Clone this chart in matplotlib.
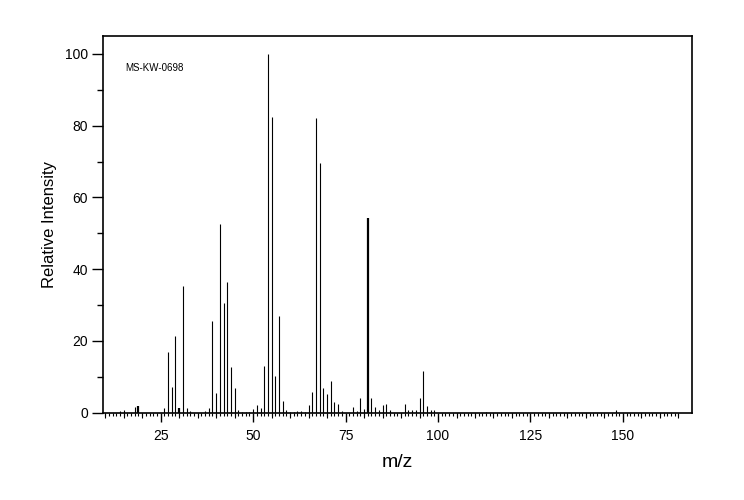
import numpy as np
import matplotlib
matplotlib.use("Agg")
import matplotlib.pyplot as plt
from matplotlib.ticker import MultipleLocator, FixedLocator, NullFormatter

plt.rcParams['font.family'] = ['Liberation Sans', 'DejaVu Sans']

# spectrum (m/z, relative intensity)
mz = [14, 15, 18, 19, 26, 27, 28, 29, 30, 31, 32, 33, 37, 38, 39, 40, 41, 42, 43, 44,
      45, 46, 47, 48, 49, 50, 51, 52, 53, 54, 55, 56, 57, 58, 59, 60, 61, 62, 63, 64,
      65, 66, 67, 68, 69, 70, 71, 72, 73, 74, 77, 78, 79, 80, 81, 82, 83, 84, 85, 86,
      87, 91, 92, 93, 94, 95, 96, 97, 98, 99, 113, 148]
intensity = [0.4, 0.7, 1.5, 1.9, 1.2, 17.0, 7.2, 21.5, 1.4, 35.4, 1.3, 0.4, 0.4, 1.4, 25.6, 5.6, 52.7, 30.7, 36.5, 12.8,
             6.8, 0.7, 0.3, 0.3, 0.3, 1.0, 2.1, 1.3, 13.0, 100.0, 82.3, 10.2, 27.0, 3.3, 0.8, 0.3, 0.3, 0.5, 0.5, 0.3,
             2.1, 5.9, 82.1, 69.5, 7.0, 5.2, 8.8, 3.1, 2.4, 0.5, 1.7, 0.5, 4.0, 0.9, 54.3, 4.0, 1.6, 0.7, 2.1, 2.3,
             0.7, 2.3, 0.7, 0.8, 0.8, 4.0, 11.6, 1.9, 0.7, 0.8, 0.3, 0.8]
sample_id = 'MS-KW-0698'

# peaks that look doubled (drawn heavier in the reference)
heavy = [19, 30, 81]

fig = plt.figure(figsize=(7.44, 5.0), dpi=100)
ax = fig.add_axes([0.1389, 0.1746, 0.7908, 0.7534])

for m, v in zip(mz, intensity):
    ax.vlines(m, 0, v, color='black', lw=1.6 if m in heavy else 0.8)

ax.set_xlim(9.5, 168.6)
ax.set_ylim(0, 105)

for s in ax.spines.values():
    s.set_linewidth(1.2)

# x ticks: every 1 (minor), every 25 labelled
ax.xaxis.set_major_locator(FixedLocator([25, 50, 75, 100, 125, 150]))
ax.xaxis.set_minor_locator(FixedLocator(np.arange(10, 166, 1)))
ax.tick_params(axis='x', which='major', length=6.5, width=1.0, pad=5, labelsize=10)
ax.tick_params(axis='x', which='minor', length=2.2, width=0.8)

# medium ticks every 5
sec = ax.secondary_xaxis('bottom')
sec.xaxis.set_major_locator(FixedLocator([t for t in range(10, 166, 5) if t % 25]))
sec.xaxis.set_major_formatter(NullFormatter())
sec.tick_params(axis='x', length=3.6, width=0.8)
sec.spines['bottom'].set_visible(False)

ax.yaxis.set_major_locator(MultipleLocator(20))
ax.yaxis.set_minor_locator(MultipleLocator(10))
ax.tick_params(axis='y', which='major', length=8, width=1.0, pad=3, labelsize=10)
ax.tick_params(axis='y', which='minor', length=4.3, width=1.0)

ax.set_xlabel('m/z', fontsize=14, labelpad=8)
ax.set_ylabel('Relative Intensity', fontsize=12, labelpad=6)

ax.text(0.037, 0.915, sample_id, transform=ax.transAxes, fontsize=7,
        va='center', ha='left')

fig.savefig('out.png', dpi=100)
